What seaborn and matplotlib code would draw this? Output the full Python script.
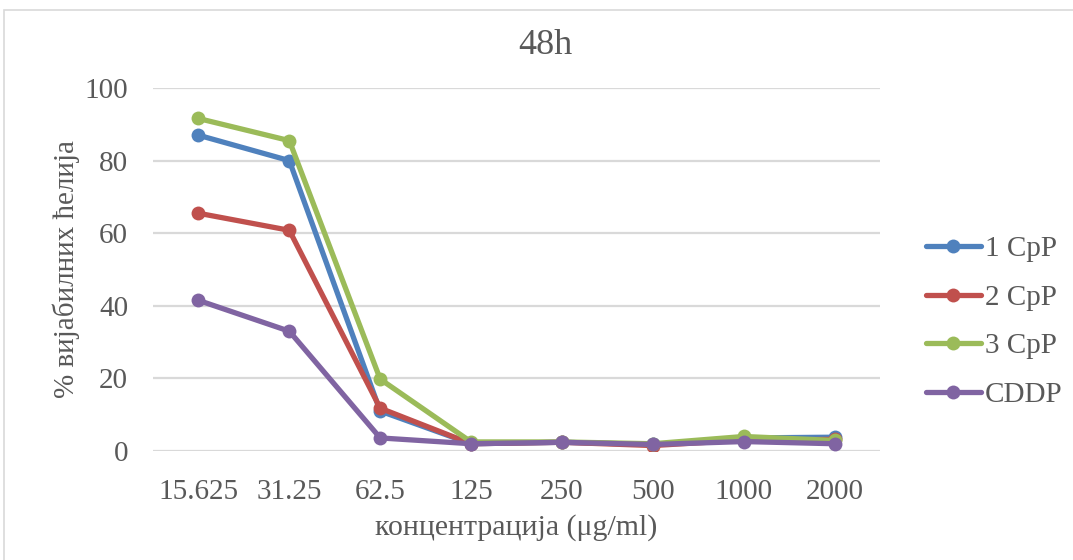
import matplotlib
matplotlib.use("Agg")
import matplotlib.pyplot as plt
from matplotlib.patches import Rectangle
import seaborn as sns
import pandas as pd

# Concentrations (µg/ml) shown as categories on the x axis
concentrations = ["15.625", "31.25", "62.5", "125", "250", "500", "1000", "2000"]

# Cell viability (%) after 48h for each compound
cpp1 = [87.0, 80.0, 11.0, 2.0, 2.4, 1.8, 3.6, 3.8]
cpp2 = [65.5, 60.8, 11.8, 2.0, 2.4, 1.5, 3.0, 3.2]
cpp3 = [91.6, 85.5, 19.8, 2.5, 2.5, 2.0, 4.0, 2.9]
cddp = [41.5, 33.0, 3.6, 2.0, 2.4, 1.8, 2.6, 2.0]

series_names = ["1 CpP", "2 CpP", "3 CpP", "CDDP"]
series_values = [cpp1, cpp2, cpp3, cddp]
colors = ["#4F81BD", "#C0504D", "#9BBB59", "#8064A2"]

rows = []
for name, vals in zip(series_names, series_values):
    for c, v in zip(concentrations, vals):
        rows.append({"conc": c, "viability": v, "series": name})
df = pd.DataFrame(rows)

sns.set_theme(style="white")
plt.rcParams["font.family"] = ["Liberation Serif", "DejaVu Serif"]
text_color = "#595959"

fig = plt.figure(figsize=(10.73, 5.6), dpi=100)
ax = fig.add_axes([153 / 1073, 1 - 451 / 560, 727 / 1073, 363 / 560])

sns.lineplot(
    data=df, x="conc", y="viability", hue="series",
    palette=dict(zip(series_names, colors)), hue_order=series_names,
    marker="o", markersize=10, markeredgewidth=0, linewidth=3.8,
    sort=False, ax=ax, legend=True,
)

ax.set_xlim(-0.5, len(concentrations) - 0.5)
ax.set_ylim(0, 100)
ax.set_yticks([0, 20, 40, 60, 80, 100])
ax.yaxis.grid(True, color="#D9D9D9", linewidth=1.6)
ax.set_axisbelow(True)
for s in ax.spines.values():
    s.set_visible(False)

ax.tick_params(axis="both", length=0, labelsize=21, colors=text_color)
ax.tick_params(axis="x", pad=20)
ax.tick_params(axis="y", pad=18)

ax.set_xlabel("концентрација (μg/ml)", fontsize=21.5, color=text_color, labelpad=7)
ax.set_ylabel("% вијабилних ћелија", fontsize=21, color=text_color, labelpad=3)

fig.text(545 / 1073, 1 - 45 / 560, "48h", ha="center", va="center",
         fontsize=26, color=text_color)

handles, labels = ax.get_legend_handles_labels()
ax.legend(handles, labels, loc="center left",
          bbox_to_anchor=(914 / 1073, 1 - 322 / 560), bbox_transform=fig.transFigure,
          frameon=False, fontsize=21, handlelength=1.9, handletextpad=0.12,
          labelspacing=0.76, labelcolor=text_color, borderaxespad=0)

# Chart area border
fig.patches.append(Rectangle((4 / 1073, -0.05), 1.1, 1 - 10 / 560 + 0.05,
                             transform=fig.transFigure, fill=False,
                             edgecolor="#D9D9D9", linewidth=1.2))

fig.savefig("out.png", dpi=100, facecolor="white")
